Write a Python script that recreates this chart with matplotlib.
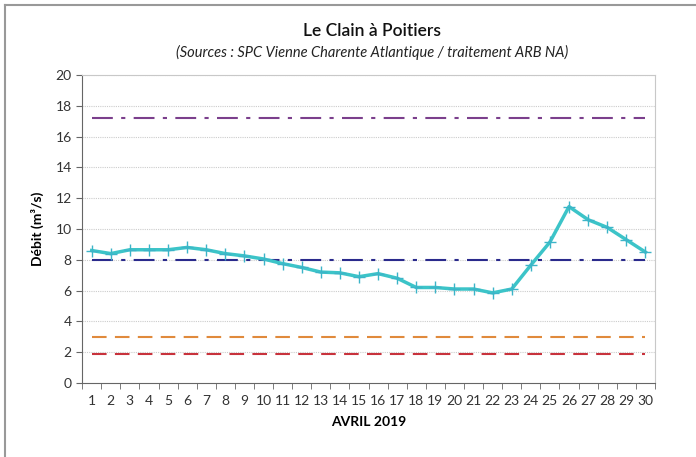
import matplotlib.pyplot as plt
from matplotlib.lines import Line2D

# Daily flow, Le Clain at Poitiers, April 2019 (m3/s)
days = list(range(1, 31))
flow = [8.6, 8.4, 8.65, 8.65, 8.65, 8.8, 8.65, 8.4, 8.25, 8.05,
        7.75, 7.5, 7.2, 7.15, 6.9, 7.1, 6.8, 6.2, 6.2, 6.1,
        6.1, 5.85, 6.1, 7.65, 9.15, 11.45, 10.6, 10.1, 9.3, 8.5]

# Threshold lines
thr_values = [17.2, 8.0, 3.0, 1.85]
thr_colors = ['#7b3f8c', '#2a2a8c', '#e08a3c', '#c8323c']
thr_styles = ['dashdot', 'dashdot', 'dashed', 'dashed']

title = 'Le Clain à Poitiers'
subtitle = '(Sources : SPC Vienne Charente Atlantique / traitement ARB NA)'

plt.rcParams['font.family'] = ['Lato', 'DejaVu Sans']

fig = plt.figure(figsize=(6.96, 4.57), dpi=100)
ax = fig.add_axes([0.118, 0.162, 0.823, 0.674])

# grid
for v in range(2, 21, 2):
    ax.axhline(v, color='#cccccc', linestyle=(0, (1, 1)), linewidth=0.8, zorder=0)

for v, c, s in zip(thr_values, thr_colors, thr_styles):
    if s == 'dashdot':
        ls = (0, (10, 4, 2, 4))
    else:
        ls = (0, (7, 4))
    ax.plot([days[0], days[-1]], [v, v], color=c, linestyle=ls, linewidth=1.5, zorder=2)

ax.plot(days, flow, color='#3cc4c8', linewidth=2.5, marker='+', markersize=9,
        markeredgewidth=1.0, markeredgecolor='#3cb4c8', zorder=3)

ax.set_xlim(0.5, 30.5)
ax.set_ylim(0, 20)
ax.set_yticks(range(0, 21, 2))
ax.set_xticks(days)
ax.set_xticks([d + 0.5 for d in range(0, 31)], minor=True)
ax.tick_params(axis='x', which='major', length=0, labelsize=10, pad=9, colors='#333333')
ax.tick_params(axis='x', which='minor', length=4, color='#666666')
ax.tick_params(axis='y', length=4, labelsize=10, colors='#333333', color='#666666')

for side in ['top', 'right']:
    ax.spines[side].set_color('#c8c8c8')
for side in ['left', 'bottom']:
    ax.spines[side].set_color('#666666')

ax.set_xlabel('AVRIL 2019', fontsize=10, fontweight='bold', labelpad=6)
ax.set_ylabel('Débit (m³/s)', fontsize=10, fontweight='bold', labelpad=8)

fig.text(0.535, 0.922, title, ha='center', fontsize=12.5, fontweight='semibold', color='#111111')
fig.text(0.535, 0.875, subtitle, ha='center', fontsize=10.5, style='italic', color='#222222')

# outer frame (top and left)
fig.add_artist(Line2D([0.007, 1.0], [0.99, 0.99], color='#999999', linewidth=1.5,
                      transform=fig.transFigure))
fig.add_artist(Line2D([0.007, 0.007], [0.0, 0.99], color='#999999', linewidth=1.5,
                      transform=fig.transFigure))

fig.savefig('out.png', dpi=100)
